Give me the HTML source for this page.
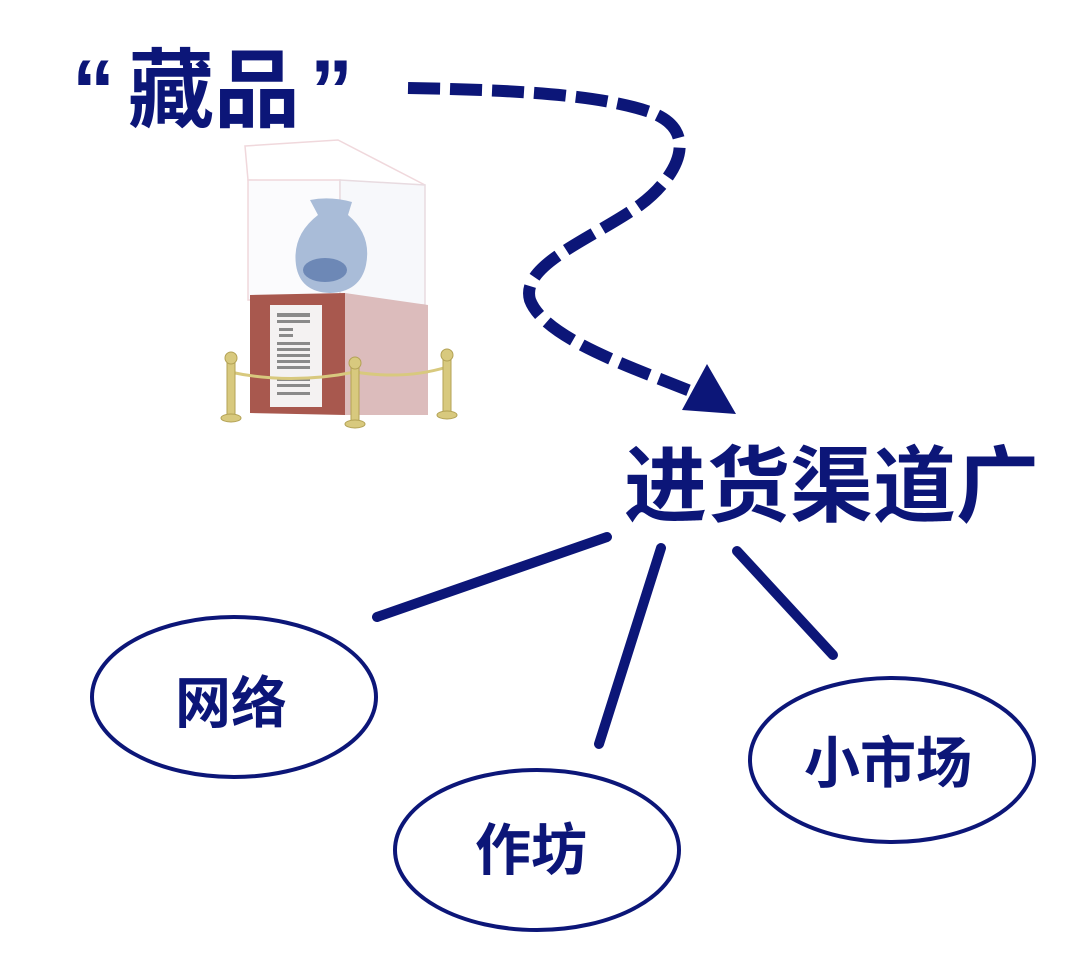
<!DOCTYPE html>
<html><head><meta charset="utf-8"><style>
html,body{margin:0;padding:0;background:#fff}
svg{display:block}
text{font-family:"Liberation Sans","Noto Sans CJK SC",sans-serif;font-weight:bold;fill:#0c1678}
</style></head><body>
<svg width="1080" height="953" viewBox="0 0 1080 953" xmlns="http://www.w3.org/2000/svg">
<text x="72" y="120" font-size="86" font-weight="900">“</text>
<text x="128" y="120" font-size="86" font-weight="900">藏品</text>
<text x="310" y="120" font-size="86" font-weight="900">”</text>
<!-- display case -->
<g>
<polygon points="245,146 338,140 425,185 248,180" fill="none" stroke="#f0d8dc" stroke-width="1.5"/>
<rect x="248" y="180" width="92" height="120" fill="#fbfbfd" stroke="#f0d8dc" stroke-width="1.5"/>
<polygon points="340,180 425,185 425,305 340,300" fill="#f7f8fb" stroke="#e8dbe0" stroke-width="1.5"/>
<path d="M310,200 Q330,196 352,202 L348,215 Q372,235 366,265 Q360,292 330,293 Q300,292 296,265 Q292,235 318,215 Z" fill="#a9bcd8"/>
<ellipse cx="325" cy="270" rx="22" ry="12" fill="#6d88b6"/>
<polygon points="250,295 345,293 345,415 250,413" fill="#a8584e"/>
<polygon points="345,293 428,305 428,415 345,415" fill="#dcbcbc"/>
<rect x="270" y="305" width="52" height="102" fill="#f4f2f2"/>
<g fill="#8a8a8a">
<rect x="277" y="313" width="33" height="4"/><rect x="277" y="320" width="33" height="3"/>
<rect x="279" y="328" width="14" height="3"/><rect x="279" y="334" width="14" height="3"/>
<rect x="277" y="342" width="33" height="3"/><rect x="277" y="348" width="33" height="3"/><rect x="277" y="354" width="33" height="3"/><rect x="277" y="360" width="33" height="3"/><rect x="277" y="366" width="33" height="3"/>
<rect x="277" y="378" width="33" height="3"/><rect x="277" y="384" width="33" height="3"/><rect x="277" y="392" width="33" height="3"/>
</g>
<path d="M230,372 Q290,385 355,372 Q405,380 447,367" fill="none" stroke="#d8c97e" stroke-width="3"/>
<g fill="#d8c97e" stroke="#b3a255" stroke-width="1">
<rect x="227" y="360" width="8" height="55"/><circle cx="231" cy="358" r="6"/><ellipse cx="231" cy="418" rx="10" ry="4"/>
<rect x="351" y="365" width="8" height="58"/><circle cx="355" cy="363" r="6"/><ellipse cx="355" cy="424" rx="10" ry="4"/>
<rect x="443" y="357" width="8" height="55"/><circle cx="447" cy="355" r="6"/><ellipse cx="447" cy="415" rx="10" ry="4"/>
</g>
</g>
<!-- dashed arrow -->
<path d="M408,88 C520,90 600,95 650,112 C700,130 680,175 640,205 C590,240 520,265 530,300 C545,340 640,370 700,395" fill="none" stroke="#0c1678" stroke-width="12" stroke-dasharray="32,10"/>
<polygon points="707,364 736,414 682,410" fill="#0c1678"/>
<text x="624" y="515" font-size="83" font-weight="900">进货渠道广</text>
<g stroke="#0c1678" stroke-width="10" stroke-linecap="round" fill="none">
<line x1="377" y1="617" x2="607" y2="537"/>
<line x1="599" y1="744" x2="661" y2="548"/>
<line x1="737" y1="551" x2="833" y2="655"/>
</g>
<g stroke="#0c1678" stroke-width="4" fill="none">
<ellipse cx="234" cy="697" rx="142" ry="80"/>
<ellipse cx="537" cy="850" rx="142" ry="80"/>
<ellipse cx="892" cy="760" rx="142" ry="82"/>
</g>
<text x="175" y="723" font-size="56">网络</text>
<text x="475" y="870" font-size="56">作坊</text>
<text x="804" y="783" font-size="56">小市场</text>
</svg>
</body></html>
